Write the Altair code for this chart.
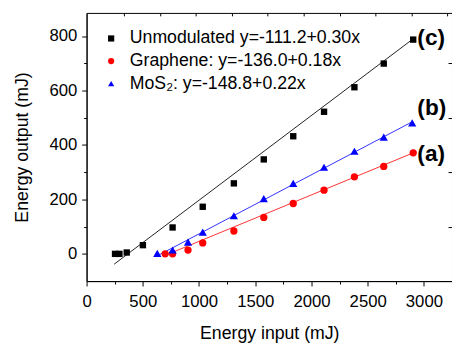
import altair as alt
import pandas as pd

FONT = "Liberation Sans"

series_names = ["Unmodulated y=-111.2+0.30x", "Graphene: y=-136.0+0.18x", "MoS₂: y=-148.8+0.22x"]
series_colors = ["#000000", "#ff0000", "#0000ff"]
line_colors = ["#202020", "#ff3030", "#3030ff"]
series_shapes = ["square", "circle", "triangle-up"]
series_sizes = [42, 55, 70]

unmod_x = [253, 292, 357, 501, 765, 1033, 1310, 1576, 1838, 2112, 2382, 2643, 2905]
unmod_y = [0, 0, 5, 32, 97, 173, 259, 347, 432, 522, 612, 699, 787]
graph_x = [699, 765, 902, 1033, 1310, 1576, 1838, 2112, 2382, 2643, 2905]
graph_y = [0, 0, 14, 40, 84, 134, 185, 234, 283, 321, 371]
mos2_x = [629, 765, 902, 1033, 1310, 1576, 1838, 2112, 2382, 2643, 2896]
mos2_y = [2, 14, 43, 80, 140, 203, 259, 318, 377, 429, 481]

# fitted lines: endpoints
fit_x0 = [245, 690, 625]
fit_y0 = [-38, -7, -8]
fit_x1 = [2905, 2905, 2896]
fit_y1 = [790, 371, 485]

label_text = ["(c)", "(b)", "(a)"]
label_x = [2942, 2942, 2942]
label_y = [794, 535, 368]

x_major = [0, 500, 1000, 1500, 2000, 2500, 3000]
x_minor = [250, 750, 1250, 1750, 2250, 2750]
y_major = [0, 200, 400, 600, 800]
y_minor = [100, 300, 500, 700]
top_ticks = [333, 652, 972, 1292, 1611, 1931, 2251, 2570, 2890, 3210]
right_ticks = [100, 300, 500, 700]

size_of = dict(zip(series_names, series_sizes))
lc_of = dict(zip(series_names, line_colors))

pts = pd.DataFrame(
    [{"series": series_names[0], "x": a, "y": b} for a, b in zip(unmod_x, unmod_y)]
    + [{"series": series_names[1], "x": a, "y": b} for a, b in zip(graph_x, graph_y)]
    + [{"series": series_names[2], "x": a, "y": b} for a, b in zip(mos2_x, mos2_y)]
)
pts["sz"] = pts["series"].map(size_of)
fits = pd.DataFrame(
    [{"series": s, "x": x0, "y": y0} for s, x0, y0 in zip(series_names, fit_x0, fit_y0)]
    + [{"series": s, "x": x1, "y": y1} for s, x1, y1 in zip(series_names, fit_x1, fit_y1)]
)
fits["lc"] = fits["series"].map(lc_of)
labels = pd.DataFrame({"t": label_text, "x": label_x, "y": label_y})

xs = alt.Scale(domain=[0, 3250], nice=False, zero=False)
ys = alt.Scale(domain=[-100, 885], nice=False, zero=False)
cs = alt.Scale(domain=series_names, range=series_colors)
ss = alt.Scale(domain=series_names, range=series_shapes)

legend = alt.Legend(
    title=None, orient="none", legendX=16, legendY=17, labelFontSize=18,
    labelFont=FONT, labelColor="#000", symbolSize=40, labelOffset=10,
    rowPadding=5, padding=0, symbolStrokeWidth=0, labelLimit=400,
)

points = alt.Chart(pts).mark_point(filled=True, opacity=1).encode(
    x=alt.X("x:Q", scale=xs, axis=alt.Axis(
        orient="bottom", values=x_major, tickSize=5, labelFontSize=17,
        labelPadding=8, labelFlush=False, format="d", title="Energy input (mJ)",
        titleFontSize=18, titlePadding=15)),
    y=alt.Y("y:Q", scale=ys, axis=alt.Axis(
        orient="left", values=y_major, tickSize=5, labelFontSize=17,
        labelPadding=5, format="d", title="Energy output (mJ)", titleFontSize=18,
        titlePadding=18)),
    color=alt.Color("series:N", scale=cs, legend=legend),
    shape=alt.Shape("series:N", scale=ss, legend=legend),
    size=alt.Size("sz:Q", scale=None),
)

lines = alt.Chart(fits).mark_line(strokeWidth=1).encode(
    x=alt.X("x:Q", scale=xs, axis=alt.Axis(
        orient="bottom", values=x_minor, tickSize=3, labels=False,
        domain=False, title=None)),
    y=alt.Y("y:Q", scale=ys, axis=alt.Axis(
        orient="left", values=y_minor, tickSize=3, labels=False,
        domain=False, title=None)),
    stroke=alt.Stroke("lc:N", scale=None),
    detail="series:N",
)

texts = alt.Chart(labels).mark_text(
    fontSize=23, fontWeight="bold", align="left", baseline="middle", font=FONT, color="#000"
).encode(
    x=alt.X("x:Q", scale=xs, axis=alt.Axis(
        orient="top", values=top_ticks, tickSize=3, offset=-3, labels=False,
        domain=False, title=None)),
    y=alt.Y("y:Q", scale=ys, axis=alt.Axis(
        orient="right", values=right_ticks, tickSize=4, offset=-4, labels=False,
        domain=False, title=None)),
    text="t:N",
)

chart = alt.layer(lines, points, texts).resolve_axis(
    x="independent", y="independent"
).properties(
    width=372, height=273,
    autosize=alt.AutoSizeParams(type="none"),
    padding={"left": 80, "top": 2, "right": 0, "bottom": 60},
).configure_view(
    stroke="#000", strokeWidth=1
).configure_axis(
    grid=False, domainColor="#000", tickColor="#000", labelColor="#000",
    titleColor="#000", labelFont=FONT, titleFont=FONT, titleFontWeight="normal",
    domainWidth=1, tickWidth=1,
)

chart.save("out.html", embed_options={"renderer": "svg", "actions": False})
